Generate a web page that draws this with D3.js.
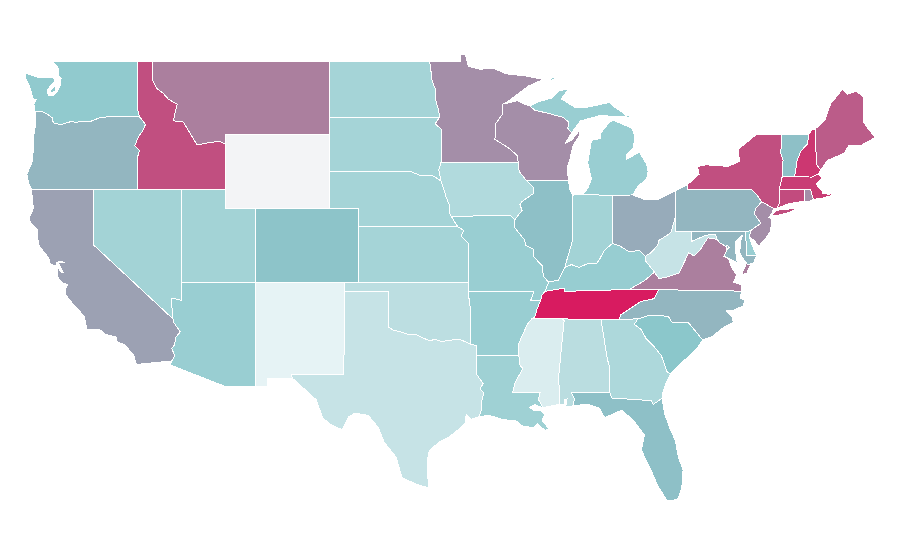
<!DOCTYPE html>
<html>
<head>
<meta charset="utf-8">
<script src="https://cdn.jsdelivr.net/npm/d3@7"></script>
<style>
  html, body { margin: 0; padding: 0; background: #fff; }
  svg { display: block; }
  .state { stroke: #fff; stroke-width: 1px; shape-rendering: crispEdges; }
</style>
</head>
<body>
<svg id="map" width="900" height="560"></svg>
<script>
// state values
var stateNames = ['WA','OR','CA','ID','NV','UT','AZ','MT','WY','CO','NM','ND','SD','NE','KS','OK','TX',
                  'MN','IA','MO','AR','LA','WI','IL','MI','IN','OH','KY','TN','MS','AL','GA','FL','SC','NC',
                  'VA','WV','PA','NY','NJ','DE','MD','DC','CT','RI','MA','VT','NH','ME'];
var stateValues = [47,55,61,85,38,38,43,71,0,51,5,37,37,37,37,26,21,
                   66.5,31,43,43,40,66.5,52,43,38,58,44,100,11,27,33,52,50,55,
                   71,21,55,85,66.5,43,55,55,86,66.5,90,52,92,81];

// borders shared by two states, lon/lat
var waId = [[-117.03,49],[-117.04,46.42],[-116.92,45.99]];
var orWa = [[-116.92,45.99],[-118.98,46],[-119.3,45.93],[-119.6,45.92],[-120.2,45.73],[-120.65,45.74],[-121.2,45.67],[-121.53,45.72],[-122,45.6],[-122.3,45.55],[-122.76,45.65],[-122.8,45.9],[-123.2,46.15],[-123.55,46.26],[-124,46.27]];
var orId = [[-116.92,45.99],[-116.78,45.85],[-116.5,45.55],[-116.7,45.2],[-117,44.85],[-117.22,44.4],[-117.05,44.25],[-116.9,44.15],[-117.03,43.8],[-117.03,42]];
var idMt = [[-116.05,49],[-116.05,48],[-115.72,47.5],[-115.3,47.25],[-114.95,46.93],[-114.35,46.65],[-114.5,46.15],[-114.6,45.75],[-113.95,45.7],[-113.45,45.05],[-113,44.45],[-112.3,44.55],[-111.5,44.65],[-111.05,44.48]];
var caAz = [[-114.63,35],[-114.57,34.8],[-114.14,34.3],[-114.45,34],[-114.53,33.6],[-114.72,33.4],[-114.5,33],[-114.72,32.72]];
var nvAz = [[-114.04,37],[-114.04,36.2],[-114.05,36],[-114.3,36.07],[-114.7,36.11],[-114.74,35.8],[-114.65,35.4],[-114.63,35]];
var ndMn = [[-97.23,49],[-97.14,48.5],[-97.05,47.9],[-96.85,47.5],[-96.82,46.9],[-96.6,46.3],[-96.56,45.94]];
var sdMn = [[-96.56,45.94],[-96.85,45.6],[-96.45,45.3],[-96.45,43.5]];
var sdIa = [[-96.45,43.5],[-96.6,43.1],[-96.45,42.49]];
var sdNe = [[-96.45,42.49],[-97,42.77],[-97.9,42.8],[-98.5,43],[-104.05,43]];
var neIa = [[-96.45,42.49],[-96.25,42],[-96.1,41.6],[-95.9,41.2],[-95.85,40.7],[-95.77,40.58]];
var neMo = [[-95.77,40.58],[-95.31,40]];
var ksMo = [[-95.31,40],[-94.9,39.8],[-95.1,39.5],[-94.61,39.1],[-94.62,37]];
var redRiver = [[-100,34.56],[-99.7,34.4],[-99.2,34.3],[-98.6,34.15],[-98.1,34.13],[-97.7,33.98],[-97.2,33.8],[-96.9,33.9],[-96.4,33.78],[-95.8,33.85],[-95.2,33.9],[-94.48,33.64]];
var okAr = [[-94.48,33.64],[-94.43,35.4],[-94.62,36.5]];
var sabine = [[-94.04,33.02],[-94.04,32],[-93.6,31.5],[-93.8,31.2],[-93.55,31],[-93.7,30.5],[-93.72,30.05],[-93.85,29.7]];
var mnWi = [[-92.29,46.66],[-92.29,46.1],[-92.75,45.6],[-92.75,45],[-92.8,44.75],[-91.9,44.3],[-91.25,43.85],[-91.22,43.5]];
var iaWi = [[-91.22,43.5],[-91.15,43],[-90.64,42.5]];
var iaIl = [[-90.64,42.5],[-90.15,42.1],[-90.2,41.8],[-91,41.35],[-91.1,41.2],[-90.95,40.9],[-91.45,40.38]];
var iaMo = [[-91.45,40.38],[-91.73,40.6],[-95.77,40.58]];
var moIl = [[-91.45,40.38],[-91.5,40],[-90.8,39.3],[-90.7,39],[-90.2,38.8],[-90.2,38.4],[-89.6,37.9],[-89.5,37.3],[-89.15,37]];
var moKy = [[-89.15,37],[-89.4,36.5]];
var moTn = [[-89.4,36.5],[-89.6,36.3],[-89.7,36]];
var moAr = [[-89.7,36],[-90.37,36],[-90.15,36.5],[-94.62,36.5]];
var arTn = [[-89.7,36],[-89.95,35.5],[-90.1,35.1],[-90.3,35]];
var arMs = [[-90.3,35],[-90.6,34.7],[-91,34],[-91.2,33.6],[-91.17,33]];
var arLa = [[-91.17,33],[-94.04,33.02]];
var laMs = [[-91.17,33],[-91.1,32.5],[-90.9,32.3],[-91.4,31.6],[-91.6,31],[-89.73,31],[-89.85,30.65],[-89.55,30.18]];
var msAl = [[-88.2,35],[-88.1,34.9],[-88.47,31.9],[-88.4,30.37]];
var alGa = [[-85.6,34.98],[-85.18,32.87],[-85,32.3],[-85.05,31.5],[-85,31]];
var gaFl = [[-85,31],[-84.86,30.71],[-82.2,30.57],[-82.05,30.36],[-81.45,30.71]];
var gaSc = [[-83.1,35],[-83.35,34.7],[-82.9,34.45],[-82.55,33.95],[-82,33.5],[-81.5,33],[-81.1,32.1],[-80.88,32.03]];
var ncSc = [[-83.1,35],[-82.3,35.2],[-81.05,35.15],[-80.78,34.82],[-79.67,34.8],[-78.7,33.86]];
var ncTn = [[-84.32,34.99],[-84.3,35.2],[-83.65,35.55],[-82.9,35.95],[-82,36.1],[-81.68,36.59]];
var ohioWest = [[-89.15,37],[-88.5,37.1],[-88.05,37.8]];
var ohioIn = [[-88.05,37.8],[-87.6,37.95],[-87.1,37.8],[-86.5,38],[-85.9,38],[-85.65,38.3],[-85.4,38.7],[-84.82,39.1]];
var ohioOh = [[-84.82,39.1],[-84.3,38.95],[-83.7,38.65],[-83,38.72],[-82.6,38.4]];
var ohioWv = [[-82.6,38.4],[-82.2,38.6],[-81.75,39],[-81.7,39.25],[-81,39.6],[-80.85,39.7],[-80.52,40.64]];
var kyWv = [[-82.6,38.4],[-82.6,38.17],[-81.97,37.54]];
var kyVa = [[-81.97,37.54],[-82.7,37.05],[-83.68,36.6]];
var kyTn = [[-83.68,36.6],[-88.07,36.5],[-88.07,36.68],[-89.4,36.5]];
var vaWv = [[-77.72,39.32],[-78.35,39.4],[-78.87,38.76],[-79.3,38.42],[-79.65,38.6],[-80.3,37.5],[-81.2,37.25],[-81.68,37.2],[-81.97,37.54]];
var potomac = [[-76.95,38.28],[-77.25,38.4],[-77.04,38.79],[-77.12,38.93],[-77.52,39.12],[-77.72,39.32]];
var mdWv = [[-77.72,39.32],[-77.83,39.6],[-78.45,39.55],[-79.48,39.2],[-79.48,39.72]];
var nyPa = [[-79.76,42.27],[-79.76,42],[-75.35,42],[-75.05,41.75],[-74.7,41.36]];
var nyNj = [[-74.7,41.36],[-73.9,41]];
var nyCt = [[-73.66,41],[-73.5,41.3],[-73.5,42.05]];
var nyMa = [[-73.5,42.05],[-73.3,42.75]];
var nyVt = [[-73.3,42.75],[-73.25,43.6],[-73.4,44],[-73.35,45]];
var paNj = [[-74.7,41.36],[-75.1,41],[-75.2,40.7],[-74.75,40.2],[-75.4,39.82]];
var njDe = [[-75.4,39.82],[-75.55,39.5]];
var vtNh = [[-71.5,45.01],[-71.6,44.5],[-72.05,44.1],[-72.3,43.6],[-72.46,42.73]];
var nhMe = [[-71.08,45.3],[-70.98,43.4],[-70.7,43.07]];
var miWi = [[-87.6,45.1],[-87.85,45.35],[-87.8,45.7],[-88.2,45.95],[-89.1,46.14],[-90.12,46.34],[-90.42,46.57]];

// coastlines and other single owner stretches
var coastWa = [[-124,46.27],[-124.07,46.65],[-123.9,46.9],[-124.15,46.95],[-124.2,47.2],[-124.43,47.75],[-124.65,48.1],[-124.65,48.35],[-123.64,48.08],[-122.83,48.13],[-122.62,47.97],[-122.76,47.81],[-123.16,47.43],[-123.1,47.15],[-122.83,47.1],[-122.49,47.32],[-122.28,47.7],[-122.22,48.08],[-122.42,48.19],[-122.42,48.62],[-122.76,48.95],[-122.76,49]];
var coastOr = [[-124.21,42],[-124.4,42.3],[-124.55,42.84],[-124.15,43.6],[-124.1,44.5],[-124.07,45],[-123.97,45.5],[-123.95,46],[-124,46.27]];
var coastCa = [[-114.72,32.72],[-117.12,32.53],[-117.28,33],[-117.9,33.6],[-118.4,33.74],[-118.5,34.03],[-119.2,34.15],[-119.6,34.42],[-120.47,34.45],[-120.65,35.15],[-121.3,35.7],[-121.9,36.3],[-121.95,36.6],[-121.8,36.85],[-122.1,36.96],[-122.4,37.2],[-122.5,37.5],[-122.5,37.8],[-122.4,37.75],[-122.2,37.5],[-122.05,37.5],[-122.3,37.85],[-122.4,38.05],[-122,38.05],[-122.3,38.15],[-122.55,38.05],[-122.5,37.85],[-123,38],[-123.05,38.3],[-123.7,38.95],[-123.82,39.4],[-123.8,39.8],[-124.35,40.3],[-124.4,40.45],[-124.1,41],[-124.2,41.75],[-124.21,42]];
var coastTx = [[-93.85,29.7],[-94.4,29.55],[-94.75,29.8],[-94.8,29.35],[-95.1,29.1],[-95.9,28.6],[-96.6,28.3],[-97.25,27.85],[-97.4,27.2],[-97.3,25.85],[-97.6,25.9],[-98.2,26.05],[-99.1,26.4],[-99.5,27.5],[-100.3,28.3],[-100.7,29.1],[-101.4,29.77],[-102.3,29.88],[-102.7,29.7],[-103.15,28.98],[-104,29.3],[-104.5,29.65],[-104.9,30.6],[-106,31.4],[-106.53,31.78]];
var coastLa = [[-89.55,30.18],[-90.1,30.35],[-90.45,30.2],[-90.1,30.02],[-89.75,30.05],[-89.4,29.8],[-89.6,29.5],[-89.15,29.05],[-89.4,28.95],[-89.9,29.3],[-90.2,29.1],[-91,29.2],[-91.4,29.5],[-91.8,29.5],[-92.3,29.55],[-93.2,29.77],[-93.85,29.7]];
var coastFl = [[-81.45,30.71],[-81.3,29.9],[-80.9,29],[-80.55,28.4],[-80.35,27.5],[-80.03,26.8],[-80.12,25.8],[-80.4,25.2],[-81.1,25.12],[-81.75,25.95],[-82.1,26.6],[-82.7,27.6],[-82.85,27.9],[-82.65,28.7],[-83.4,29.5],[-84.2,30.05],[-85.27,29.67],[-85.4,29.7],[-85.7,30.15],[-86.5,30.38],[-87.52,30.28]];
var alFl = [[-87.52,30.28],[-87.4,30.65],[-87.6,31],[-85,31]];
var coastAl = [[-87.52,30.28],[-88,30.23],[-87.9,30.65],[-88.1,30.6],[-88.1,30.35],[-88.4,30.37]];
var coastNc = [[-78.7,33.86],[-78.1,34.02],[-77.36,34.5],[-76.62,34.83],[-76.7,35.1],[-77.1,35.43],[-76.62,35.48],[-75.94,35.7],[-75.87,36.02],[-76.14,36.13],[-76.07,36.51]];
var coastVa = [[-76.07,36.51],[-76.07,36.84],[-76.6,37],[-76.4,37.38],[-76.75,37.82],[-76.95,38.28]];
var coastMd = [[-75.05,38.45],[-75.25,38.03],[-75.65,37.95],[-75.9,38.2],[-76.2,38.6],[-76.1,39.3],[-76,39.55],[-76.45,39.2],[-76.5,38.8],[-76.4,38.3],[-76.35,38.05],[-76.95,38.28]];
var coastNj = [[-73.9,41],[-74.02,40.7],[-74.25,40.5],[-74,40.45],[-74.1,39.75],[-74.4,39.4],[-74.9,38.95],[-75.15,39.2],[-75.55,39.5]];
var coastMe = [[-71.08,45.3],[-70.4,45.8],[-70.25,46.2],[-70,46.7],[-69.23,47.46],[-68.9,47.2],[-68.3,47.35],[-67.8,47.07],[-67.8,45.7],[-67.45,45.3],[-67,44.85],[-68,44.4],[-68.8,44.4],[-69.1,44],[-69.8,43.75],[-70.25,43.6],[-70.7,43.07]];
var coastMa = [[-70.85,42.87],[-70.6,42.65],[-71,42.3],[-70.6,41.95],[-70.55,41.8],[-70.1,41.77],[-70.2,42.07],[-69.95,41.7],[-70.6,41.55],[-71.1,41.5],[-71.2,41.5]];
var coastNy = [[-73.35,45],[-75.1,45],[-75.3,44.85],[-76.3,44.2],[-76.2,43.55],[-77,43.28],[-78.5,43.37],[-79.05,43.27],[-78.95,42.85],[-79.76,42.27]];
var coastOhLake = [[-84.8,41.7],[-83.45,41.73],[-82.7,41.5],[-81.7,41.5],[-80.52,41.98]];
var shoreMiLower = [[-86.82,41.76],[-86.5,42.1],[-86.25,42.6],[-86.5,43.5],[-86.25,44.7],[-85.6,44.8],[-85.6,45.1],[-85,45.7],[-84.75,45.78],[-83.5,45.35],[-83.3,44.9],[-83.4,44.3],[-83.9,43.9],[-83.9,43.65],[-83,44.05],[-82.5,43.4],[-82.4,43],[-82.5,42.6],[-83.1,42.2],[-83.45,41.73],[-84.8,41.7]];
var shoreMiUpper = [[-90.42,46.57],[-89.8,46.8],[-88.9,47],[-88.4,47.4],[-87.8,47.47],[-88.3,46.95],[-87.4,46.5],[-86.5,46.5],[-85,46.75],[-84.6,46.45],[-84.1,46.2],[-83.9,45.97],[-84.7,45.98],[-85.6,46.05],[-86.3,45.9],[-87,45.75],[-87.6,45.1]];
var shoreWi = [[-90.42,46.57],[-90.75,46.65],[-91.3,46.85],[-92,46.7],[-92.29,46.66]];
var shoreWiEast = [[-87.8,42.49],[-87.9,43.2],[-87.7,43.7],[-87.5,44.4],[-87.1,44.9],[-87,45.3],[-87.6,44.7],[-88,44.55],[-87.6,45.1]];
var shoreMn = [[-97.23,49],[-95.15,49],[-95.15,49.38],[-94.8,49.33],[-94.6,48.72],[-93.8,48.55],[-92.95,48.62],[-92,48.3],[-90.8,48.2],[-89.5,48],[-90.5,47.65],[-92,46.75],[-92.29,46.66]];

// islands
var longIsland = [[-74.03,40.6],[-73.75,40.6],[-72.8,40.78],[-72.2,41.02],[-72.7,40.98],[-73.7,40.9]];
var vaShore = [[-76.07,37.38],[-75.75,38],[-75.47,37.93],[-75.7,37.5]];
var kitsap = [[-122.9,47.43],[-122.69,47.64],[-122.56,47.64],[-122.62,47.37],[-122.96,47.27]];
var isleRoyale = [[-89.2,47.85],[-88.5,48.15],[-88.9,48.1]];
var drummond = [[-83.9,46.05],[-83.5,46],[-83.8,45.93]];
var santaRosa = [[-120.2,34],[-119.95,34.02],[-120,33.9]];
var santaCruz = [[-119.9,34.05],[-119.55,34.03],[-119.7,33.97]];
var vineyard = [[-70.8,41.35],[-70.5,41.45],[-70.55,41.35]];
var nantucket = [[-70.25,41.28],[-69.97,41.3],[-70.05,41.23]];

function rev(a) { return a.slice().reverse(); }

var stateRings = {
  WA: [[[-122.76,49]].concat(waId, orWa, coastWa), kitsap],
  OR: [rev(orWa).concat(orId, [[-124.21,42]], coastOr)],
  CA: [[[-124.21,42],[-120,42],[-120,39]].concat(caAz, coastCa), santaRosa, santaCruz],
  ID: [waId.slice(0,1).concat(idMt, [[-111.05,42],[-114.04,42]], rev(orId), rev(waId))],
  NV: [[[-120,42],[-114.04,42]].concat(nvAz, [[-120,39]])],
  UT: [[[-114.04,42],[-111.05,42],[-111.05,41],[-109.05,41],[-109.05,37],[-114.04,37]]],
  AZ: [nvAz.concat(caAz, [[-114.81,32.5],[-111.07,31.33],[-109.05,31.33],[-109.05,37]])],
  MT: [[[-116.05,49],[-104.05,49],[-104.05,45],[-111.05,45]].concat(rev(idMt))],
  WY: [[[-111.05,45],[-104.05,45],[-104.05,41],[-111.05,41]]],
  CO: [[[-109.05,41],[-102.05,41],[-102.05,37],[-109.05,37]]],
  NM: [[[-109.05,37],[-103,37],[-103,36.5],[-103.04,32],[-106.62,32],[-106.53,31.78],[-108.21,31.78],[-108.21,31.33],[-109.05,31.33]]],
  ND: [[[-104.05,49]].concat(ndMn, [[-104.05,45.94]])],
  SD: [[[-104.05,45.94]].concat(sdMn, sdIa, sdNe)],
  NE: [[[-104.05,43]].concat(rev(sdNe), neIa, neMo, [[-102.05,40],[-102.05,41],[-104.05,41]])],
  KS: [[[-102.05,40]].concat(ksMo, [[-102.04,37]])],
  OK: [[[-103,37],[-94.62,37]].concat(rev(okAr), rev(redRiver), [[-100,36.5],[-103,36.5]])],
  TX: [[[-103,36.5],[-100,36.5]].concat(redRiver, [[-94.04,33.55]], sabine, coastTx, [[-106.62,32],[-103.04,32]])],
  MN: [shoreMn.concat(mnWi, [[-96.45,43.5]], rev(sdMn), rev(ndMn))],
  IA: [[[-96.45,43.5],[-91.22,43.5]].concat(iaWi, iaIl, iaMo, rev(neIa), rev(sdIa))],
  MO: [rev(iaMo).concat(moIl, moKy, moTn, moAr, [[-94.62,37]], rev(ksMo), rev(neMo))],
  AR: [rev(moAr).concat(arTn, arMs, arLa, [[-94.04,33.55],[-94.48,33.64]], okAr)],
  LA: [rev(arLa).concat(laMs, coastLa, rev(sabine))],
  WI: [shoreWiEast.concat(miWi, shoreWi, mnWi, iaWi)],
  IL: [[[-87.53,41.71],[-87.7,42],[-87.8,42.49],[-90.64,42.5]].concat(iaIl, moIl, ohioWest, [[-87.95,38.1],[-87.5,39.35]])],
  MI: [shoreMiLower.concat([[-86.82,41.76]]), shoreMiUpper.concat(miWi), isleRoyale, drummond],
  IN: [[[-87.53,41.71],[-87.2,41.76],[-86.82,41.76],[-84.8,41.7],[-84.82,39.1]].concat(rev(ohioIn), [[-87.95,38.1],[-87.5,39.35]])],
  OH: [coastOhLake.concat([[-80.52,40.64]], rev(ohioWv), rev(ohioOh))],
  KY: [moKy.concat(rev(kyTn), rev(kyVa), rev(kyWv), rev(ohioOh), rev(ohioIn), rev(ohioWest))],
  TN: [[[-88.2,35],[-85.6,34.98]].concat(ncTn, kyTn, moTn, arTn)],
  MS: [[[-90.3,35]].concat(msAl, [[-89.55,30.18]], rev(laMs), rev(arMs))],
  AL: [msAl.concat(rev(coastAl), alFl, rev(alGa))],
  GA: [alGa.concat(gaFl, [[-81.4,31],[-81.2,31.5]], rev(gaSc))],
  FL: [alFl.concat(gaFl, coastFl)],
  SC: [ncSc.concat([[-79.1,33.4],[-79.6,33],[-80.45,32.4]], rev(gaSc))],
  NC: [ncTn.concat(rev(coastNc), rev(ncSc))],
  VA: [[[-83.68,36.6],[-81.68,36.59]].concat(coastVa, potomac, vaWv, kyVa), vaShore],
  WV: [vaWv.concat(rev(kyWv), ohioWv, [[-80.52,39.72]], rev(mdWv))],
  PA: [[[-80.52,41.98]].concat(nyPa, paNj, [[-75.8,39.72],[-80.52,39.72]])],
  NY: [nyPa.concat(nyNj, nyCt, nyMa, nyVt, coastNy), longIsland],
  NJ: [rev(paNj).concat(nyNj, coastNj, rev(njDe))],
  DE: [[[-75.8,39.72]].concat(njDe, [[-75.4,39.1],[-75.05,38.45],[-75.7,38.46]])],
  MD: [[[-79.48,39.72],[-75.8,39.72],[-75.7,38.46]].concat(coastMd, potomac, mdWv)],
  DC: [[[-77.04,38.79],[-77.12,38.93],[-77.04,39],[-76.91,38.89]]],
  CT: [[[-73.5,42.05],[-71.8,42.02],[-71.8,41.4],[-72.9,41.25]].concat(nyCt)],
  RI: [[[-71.8,42.02],[-71.38,42.02],[-71.2,41.5],[-71.5,41.37],[-71.8,41.4]]],
  MA: [nyMa.concat([[-72.46,42.73],[-71.3,42.7]], coastMa, [[-71.38,42.02],[-71.8,42.02]]), vineyard, nantucket],
  VT: [nyVt.concat(vtNh)],
  NH: [vtNh.concat([[-71.3,42.7],[-70.85,42.87],[-70.7,43.07]], rev(nhMe), [[-71.3,45.3]])],
  ME: [coastMe.concat(rev(nhMe))]
};

var svg = d3.select('#map');

// plain lon/lat stretched onto the page, both axes linear
var lonScale = d3.scaleLinear().domain([-117.04,-104.05]).range([137.5,329]);
var latScale = d3.scaleLinear().domain([49,25.12]).range([61,501]);

var planar = d3.geoTransform({
  point: function(x, y) { this.stream.point(lonScale(x), latScale(y)); }
});
var path = d3.geoPath(planar);

var color = d3.scaleLinear()
    .domain([0,5,50,100])
    .range(['#f3f4f6','#e6f3f5','#8bc7cb','#d81b60']);

var states = stateNames.map(function(name, i) {
  return {
    type: 'Feature',
    id: name,
    properties: { value: stateValues[i] },
    geometry: {
      type: 'MultiPolygon',
      coordinates: stateRings[name].map(function(r) { return [r.concat([r[0]])]; })
    }
  };
});

svg.selectAll('path.state')
    .data(states)
  .enter().append('path')
    .attr('class', 'state')
    .attr('d', path)
    .attr('fill', function(d) { return color(d.properties.value); });
</script>
</body>
</html>
